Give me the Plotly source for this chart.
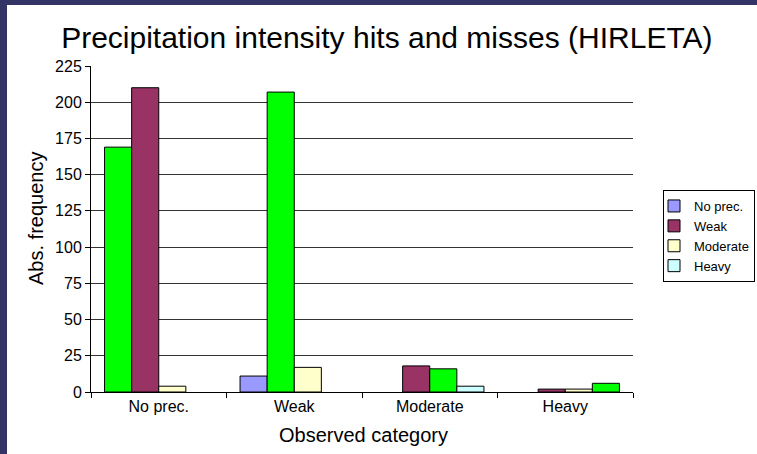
import plotly.graph_objects as go

# Observed category on the x axis; one bar series per forecast category
observed = ["No prec.", "Weak", "Moderate", "Heavy"]
forecast = ["No prec.", "Weak", "Moderate", "Heavy"]

fc_no_prec = [169, 11, 0, 0]
fc_weak = [210, 207, 18, 2]
fc_moderate = [4, 17, 16, 2]
fc_heavy = [0, 0, 4, 6]

series_values = [fc_no_prec, fc_weak, fc_moderate, fc_heavy]
series_colors = ["#9999FF", "#993366", "#FFFFCC", "#CCFFFF"]
hit_color = "#00FF00"

y_ticks = list(range(0, 226, 25))

FONT = "Arial, Liberation Sans, sans-serif"
W, H = 757, 454
L, R, T, B = 91, 124, 66, 62
pw, ph = W - L - R, H - T - B


def px_x(p):
    return (p - L) / pw


def px_y(p):
    return (H - B - p) / ph


fig = go.Figure()

for name, vals, col in zip(forecast, series_values, series_colors):
    # correct forecasts (forecast == observed) are highlighted in green
    colors = [hit_color if obs == name else col for obs in observed]
    outline = [1 if v > 0 else 0 for v in vals]
    fig.add_trace(go.Bar(
        x=observed, y=vals, name=name, showlegend=False,
        marker=dict(color=colors, line=dict(color="#000000", width=outline)),
    ))
    # legend entry in the series' own colour
    fig.add_trace(go.Scatter(
        x=[None], y=[None], name=name, mode="markers",
        marker=dict(symbol="square", size=12, color=col,
                    line=dict(color="#000000", width=1)),
    ))

fig.update_layout(
    width=W, height=H,
    margin=dict(l=L, r=R, t=T, b=B, autoexpand=False),
    paper_bgcolor="white", plot_bgcolor="white",
    barmode="group", bargap=0.2, bargroupgap=0,
    font=dict(family=FONT, color="#000000"),
    title=dict(text="Precipitation intensity hits and misses (HIRLETA)",
               x=0.511, xref="container", xanchor="center",
               y=1 - 37 / H, yref="container", yanchor="middle",
               font=dict(size=30, family=FONT, color="#000000")),
    xaxis=dict(type="category", categoryorder="array", categoryarray=observed,
               showline=True, linecolor="#000000", linewidth=1,
               ticks="outside", tickson="boundaries", ticklen=5,
               tickcolor="#000000", tickfont=dict(size=16), showgrid=False,
               zeroline=False),
    yaxis=dict(range=[0, 225], tickvals=y_ticks,
               showline=True, linecolor="#000000", linewidth=1,
               ticks="outside", ticklen=5, tickcolor="#000000",
               tickfont=dict(size=16), showgrid=True,
               gridcolor="#333333", gridwidth=1, zeroline=False),
    legend=dict(x=px_x(663), y=px_y(190), xanchor="left", yanchor="top",
                bordercolor="#000000", borderwidth=1, bgcolor="white",
                font=dict(size=13), itemsizing="trace", tracegroupgap=0,
                indentation=-10),
    annotations=[
        dict(text="Abs. frequency", textangle=-90, showarrow=False,
             xref="paper", yref="paper", x=px_x(36), y=px_y(219),
             xanchor="center", yanchor="middle", font=dict(size=20)),
        dict(text="Observed category", showarrow=False,
             xref="paper", yref="paper", x=px_x(363), y=px_y(435),
             xanchor="center", yanchor="middle", font=dict(size=20)),
    ],
    shapes=[
        # dark frame strips along the left and top edges of the page
        dict(type="rect", xref="paper", yref="paper", layer="above",
             x0=px_x(-20), x1=px_x(7), y0=px_y(H + 20), y1=px_y(-20),
             fillcolor="#333366", line=dict(width=0)),
        dict(type="rect", xref="paper", yref="paper", layer="above",
             x0=px_x(-20), x1=px_x(W + 20), y0=px_y(5), y1=px_y(-20),
             fillcolor="#333366", line=dict(width=0)),
    ],
)

fig.write_html("out.html", config={"displayModeBar": False})
